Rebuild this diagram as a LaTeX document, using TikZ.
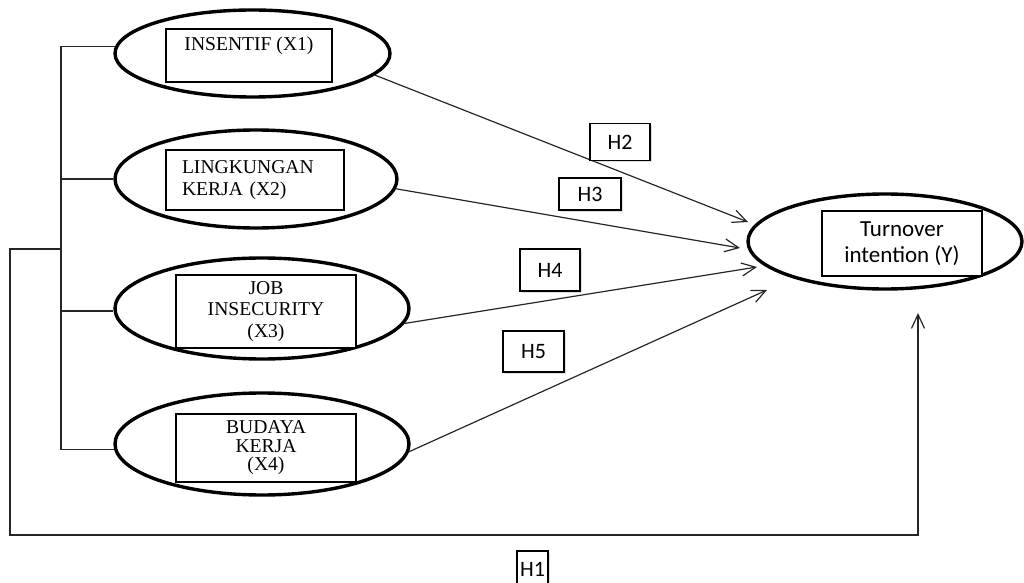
\documentclass[tikz,border=0pt]{standalone}
\usepackage{fontspec}
\setmainfont{Liberation Serif}
\newfontfamily\calibri{Carlito}
\usetikzlibrary{shapes.geometric,arrows.meta,shadows}

\begin{document}
\begin{tikzpicture}[x=0.5pt, y=-0.5pt,
	oval/.style = {shape=ellipse, draw, line width=1.7pt, inner sep=0pt},
	varbox/.style = {shape=rectangle, draw, line width=0.65pt, fill=white, align=center,
			font=\fontsize{9.8}{10.6}\selectfont},
	hbox/.style = {shape=rectangle, draw, line width=0.65pt, fill=white, inner sep=1pt,
			font=\calibri\fontsize{11}{13}\selectfont,
			drop shadow={shadow xshift=0.9pt, shadow yshift=-0.9pt, opacity=0.25}},
	wire/.style = {line width=0.6pt, draw=black!85},
	link/.style = {wire, -{Straight Barb[length=7pt,width=6.5pt]}}]
			\useasboundingbox (0,0) rectangle (1024,583);
			\node[oval, minimum width=137.5pt, minimum height=43.5pt] (ins) at (252.5,53.5) {};
			\node[oval, minimum width=141pt, minimum height=49pt] (lk) at (256,179) {};
			\node[oval, minimum width=147pt, minimum height=50.5pt] (js) at (262,308.5) {};
			\node[oval, minimum width=147pt, minimum height=51pt] (bk) at (262,444) {};
			\node[oval, minimum width=137pt, minimum height=47.5pt] (ti) at (885,241.5) {};
			\node[varbox, minimum width=83pt, text height=9pt, text depth=13.5pt, inner ysep=2pt] (insbox) at (249,55.5) {INSENTIF (X1)};
			\node[varbox, align=left, text width=73pt, inner xsep=8pt, minimum height=30pt] (lkbox) at (255,180) {LINGKUNGAN\\KERJA (X2)};
			\node[varbox, minimum width=90pt, minimum height=36.5pt] (jsbox) at (266,311.5) {JOB\\INSECURITY\\(X3)};
			\node[varbox, minimum width=90pt, minimum height=34pt, font=\fontsize{9.8}{9.3}\selectfont] (bkbox) at (266,448) {BUDAYA\\KERJA\\(X4)};
			\node[varbox, minimum width=80pt, minimum height=32.5pt, font=\calibri\fontsize{11.5}{13}\selectfont] (tibox) at (902,243.5) {Turnover\\intention (Y)};
			\coordinate (bx) at (61,0);
			\draw[wire] (ins.177) -- (ins.177 -| bx) -- (bk.182 -| bx) -- (bk.182);
			\draw[wire] (lk.west) -- (lk.west -| bx);
			\draw[wire] (js.181) -- (js.181 -| bx);
			\coordinate (h2tip) at (748,222);
			\coordinate (h3tip) at (740,248);
			\coordinate (h4tip) at (757,267);
			\coordinate (h5tip) at (767,290);
			\draw[link] (ins.-10) -- (h2tip);
			\draw[link] (lk.-4) -- (h3tip);
			\draw[link] (js.-6) -- (h4tip);
			\draw[link] (bk.-3) -- (h5tip);
			\coordinate (h1start) at (61,249);
			\coordinate (h1corner) at (10,535);
			\coordinate (h1tip) at (918,313);
			\draw[link] (h1start) -| (h1corner) -| (h1tip);
			\node[hbox, minimum width=30pt, minimum height=18.5pt] (h2) at (620,142) {H2};
			\node[hbox, minimum width=31pt, minimum height=16pt] (h3) at (590,194) {H3};
			\node[hbox, minimum width=30pt, minimum height=21pt] (h4) at (550,270) {H4};
			\node[hbox, minimum width=30.5pt, minimum height=20.5pt] (h5) at (533.5,351.5) {H5};
			\node[hbox, minimum width=15.5pt, minimum height=18pt] (h1) at (532.5,569) {H1};
\end{tikzpicture}
\end{document}
